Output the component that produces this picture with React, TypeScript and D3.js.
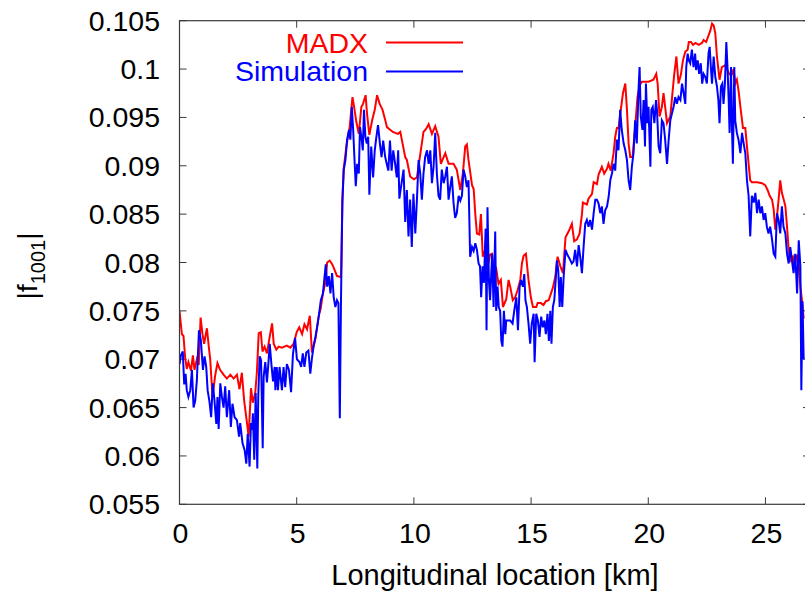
import React from "react";
import * as d3 from "d3";

// Coupling resonance driving term |f1001| along the ring: model vs. simulation
const madxPoints: [number, number][] = [
  [0, 0.075], [0.1, 0.0726], [0.17, 0.0724], [0.24, 0.0702], [0.31, 0.069], [0.38, 0.0697],
  [0.49, 0.0688], [0.57, 0.0704], [0.64, 0.0689], [0.74, 0.07], [0.82, 0.0694], [0.9, 0.0743],
  [0.98, 0.0726], [1.05, 0.0716], [1.17, 0.0732], [1.24, 0.0715], [1.31, 0.07], [1.41, 0.0661],
  [1.52, 0.0683], [1.62, 0.0696], [1.73, 0.0689], [1.88, 0.0684], [2.02, 0.068], [2.17, 0.0684],
  [2.31, 0.068], [2.45, 0.0684], [2.56, 0.0669], [2.66, 0.0686], [2.76, 0.0657], [2.88, 0.0634],
  [2.95, 0.062], [3.05, 0.067], [3.13, 0.0655], [3.23, 0.0665], [3.3, 0.0686], [3.38, 0.0727],
  [3.47, 0.0728], [3.54, 0.0708], [3.63, 0.0713], [3.73, 0.0706], [3.84, 0.0722], [3.95, 0.0737],
  [4.02, 0.0716], [4.13, 0.071], [4.23, 0.0713], [4.37, 0.0712], [4.58, 0.0714], [4.73, 0.0712],
  [4.87, 0.0716], [5.0, 0.0728], [5.11, 0.0733], [5.23, 0.0726], [5.33, 0.0736], [5.44, 0.0731],
  [5.56, 0.0745], [5.65, 0.0707], [5.8, 0.0721], [5.94, 0.0745], [6.02, 0.0752], [6.12, 0.0768],
  [6.23, 0.078], [6.3, 0.08], [6.41, 0.0802], [6.52, 0.0798], [6.62, 0.0792], [6.72, 0.0786],
  [6.89, 0.0785], [6.95, 0.0864], [7.0, 0.0896], [7.12, 0.092], [7.26, 0.094], [7.38, 0.0971],
  [7.43, 0.0964], [7.54, 0.0946], [7.65, 0.0933], [7.76, 0.0961], [7.83, 0.0964], [7.94, 0.0973],
  [8.0, 0.0954], [8.1, 0.0932], [8.22, 0.0947], [8.33, 0.0958], [8.43, 0.0973], [8.54, 0.0964],
  [8.66, 0.0958], [8.76, 0.0949], [8.85, 0.094], [9.1, 0.0935], [9.32, 0.0933], [9.42, 0.0935],
  [9.63, 0.0909], [9.7, 0.0906], [9.84, 0.0889], [10.0, 0.0886], [10.13, 0.0888], [10.41, 0.0935],
  [10.52, 0.0938], [10.63, 0.0943], [10.77, 0.0933], [10.91, 0.0941], [11.05, 0.093], [11.15, 0.0902],
  [11.34, 0.0913], [11.48, 0.0902], [11.69, 0.0902], [11.83, 0.0896], [11.98, 0.0875], [12.09, 0.0892],
  [12.19, 0.092], [12.26, 0.0922], [12.33, 0.0906], [12.48, 0.088], [12.55, 0.0876], [12.62, 0.085],
  [12.69, 0.083], [12.79, 0.0829], [12.86, 0.085], [12.94, 0.0806], [13.04, 0.0813], [13.11, 0.083],
  [13.18, 0.0799], [13.25, 0.0808], [13.33, 0.0809], [13.4, 0.0792], [13.51, 0.0794], [13.61, 0.0778],
  [13.71, 0.0782], [13.8, 0.0754], [13.94, 0.0762], [14.04, 0.0782], [14.11, 0.0775], [14.22, 0.0761],
  [14.32, 0.0764], [14.42, 0.0771], [14.54, 0.0782], [14.61, 0.0799], [14.68, 0.0807], [14.78, 0.0809],
  [14.89, 0.0782], [14.99, 0.0764], [15.08, 0.0754], [15.22, 0.0754], [15.28, 0.0758], [15.42, 0.0758],
  [15.53, 0.0756], [15.63, 0.076], [15.75, 0.0761], [15.85, 0.0768], [15.93, 0.0774], [16.03, 0.0785],
  [16.13, 0.0806], [16.25, 0.0796], [16.36, 0.0789], [16.47, 0.0826], [16.6, 0.0832], [16.74, 0.084],
  [16.84, 0.0822], [16.96, 0.0824], [17.07, 0.083], [17.17, 0.085], [17.21, 0.0862], [17.38, 0.086],
  [17.45, 0.0866], [17.6, 0.0871], [17.67, 0.0883], [17.81, 0.0881], [17.88, 0.0891], [18.02, 0.0899],
  [18.12, 0.0892], [18.24, 0.0897], [18.3, 0.0902], [18.4, 0.0895], [18.52, 0.0913], [18.59, 0.093],
  [18.66, 0.0939], [18.73, 0.0939], [18.83, 0.0958], [18.92, 0.0975], [19.02, 0.0985], [19.09, 0.0958],
  [19.16, 0.0923], [19.23, 0.0909], [19.33, 0.0909], [19.44, 0.094], [19.54, 0.0971], [19.63, 0.0983],
  [19.73, 0.0987], [19.87, 0.0987], [20.01, 0.0987], [20.22, 0.0989], [20.34, 0.0995], [20.4, 0.0985],
  [20.48, 0.0951], [20.58, 0.0961], [20.65, 0.0975], [20.72, 0.0961], [20.8, 0.0944], [20.94, 0.0951],
  [21.05, 0.098], [21.11, 0.0995], [21.2, 0.1013], [21.29, 0.0985], [21.39, 0.0994], [21.48, 0.1009],
  [21.58, 0.1018], [21.68, 0.102], [21.73, 0.1028], [21.82, 0.1028], [21.91, 0.1025], [22.01, 0.1027],
  [22.15, 0.1025], [22.29, 0.1027], [22.36, 0.103], [22.47, 0.1028], [22.53, 0.1032], [22.65, 0.104],
  [22.72, 0.1047], [22.79, 0.1045], [22.86, 0.1037], [22.93, 0.1013], [23.04, 0.0989], [23.14, 0.1002],
  [23.29, 0.1004], [23.43, 0.0996], [23.54, 0.0993], [23.64, 0.1], [23.71, 0.0985], [23.78, 0.0989],
  [23.85, 0.0978], [23.93, 0.0961], [24.04, 0.0939], [24.14, 0.0939], [24.21, 0.092], [24.28, 0.0902],
  [24.35, 0.0885], [24.42, 0.0883], [24.52, 0.0883], [24.64, 0.0883], [24.85, 0.0882], [24.99, 0.088],
  [25.09, 0.0875], [25.18, 0.0869], [25.28, 0.0865], [25.35, 0.0855], [25.42, 0.0834], [25.49, 0.0847],
  [25.56, 0.0865], [25.63, 0.0885], [25.7, 0.0872], [25.78, 0.0865], [25.85, 0.0858], [25.92, 0.0837],
  [25.99, 0.0813], [26.06, 0.0802], [26.17, 0.0806], [26.24, 0.0796], [26.35, 0.0808], [26.42, 0.08],
  [26.49, 0.0775], [26.56, 0.076], [26.63, 0.0742],
];

const simulationPoints: [number, number][] = [
  [0, 0.0695], [0.06, 0.0704], [0.14, 0.0708], [0.2, 0.0674], [0.26, 0.0685], [0.31, 0.0668],
  [0.38, 0.0661], [0.46, 0.0668], [0.53, 0.0689], [0.6, 0.065], [0.67, 0.0657], [0.74, 0.0678],
  [0.83, 0.073], [0.91, 0.072], [1.0, 0.0689], [1.07, 0.0703], [1.14, 0.0692], [1.2, 0.0668],
  [1.28, 0.0656], [1.35, 0.064], [1.42, 0.0675], [1.49, 0.0658], [1.57, 0.0633], [1.62, 0.0661],
  [1.67, 0.0628], [1.74, 0.0675], [1.81, 0.0661], [1.88, 0.065], [1.95, 0.0672], [2.02, 0.064],
  [2.12, 0.0668], [2.19, 0.063], [2.26, 0.0654], [2.35, 0.064], [2.45, 0.0637], [2.54, 0.062],
  [2.59, 0.0634], [2.69, 0.0613], [2.78, 0.0606], [2.85, 0.0592], [2.91, 0.0623], [2.99, 0.0589],
  [3.05, 0.0634], [3.1, 0.0627], [3.13, 0.0644], [3.19, 0.0596], [3.25, 0.0665], [3.32, 0.0587],
  [3.36, 0.0662], [3.42, 0.0703], [3.48, 0.0699], [3.55, 0.0608], [3.59, 0.0682], [3.66, 0.0697],
  [3.73, 0.0676], [3.79, 0.0695], [3.85, 0.0716], [3.92, 0.0695], [3.99, 0.0677], [4.06, 0.0692],
  [4.09, 0.0668], [4.15, 0.0692], [4.2, 0.0668], [4.27, 0.0692], [4.37, 0.0668], [4.44, 0.0692],
  [4.51, 0.0671], [4.58, 0.0695], [4.67, 0.0689], [4.76, 0.0666], [4.84, 0.0705], [4.93, 0.0722],
  [5.01, 0.07], [5.12, 0.0697], [5.19, 0.0692], [5.26, 0.0706], [5.33, 0.0692], [5.41, 0.0707],
  [5.5, 0.0709], [5.58, 0.0685], [5.65, 0.0701], [5.73, 0.0715], [5.8, 0.0723], [5.87, 0.0733],
  [5.94, 0.0744], [6.03, 0.0761], [6.12, 0.0768], [6.24, 0.0798], [6.3, 0.0775], [6.37, 0.0786],
  [6.44, 0.0768], [6.51, 0.0789], [6.58, 0.0764], [6.65, 0.0754], [6.72, 0.0761], [6.78, 0.0758],
  [6.84, 0.0639], [6.89, 0.0761], [6.95, 0.0864], [7.01, 0.0896], [7.08, 0.0906], [7.15, 0.0927],
  [7.23, 0.0937], [7.29, 0.0927], [7.35, 0.0961], [7.41, 0.0937], [7.46, 0.091], [7.52, 0.0879],
  [7.58, 0.0902], [7.65, 0.0892], [7.7, 0.094], [7.76, 0.093], [7.82, 0.0916], [7.87, 0.0958],
  [7.93, 0.093], [7.99, 0.0923], [8.05, 0.093], [8.1, 0.087], [8.18, 0.092], [8.26, 0.0888],
  [8.33, 0.0916], [8.4, 0.093], [8.47, 0.0942], [8.55, 0.0923], [8.62, 0.0909], [8.69, 0.0926],
  [8.77, 0.091], [8.84, 0.0902], [8.91, 0.0895], [8.98, 0.0926], [9.05, 0.0895], [9.12, 0.0916],
  [9.2, 0.0902], [9.27, 0.0888], [9.33, 0.0916], [9.38, 0.0866], [9.45, 0.0878], [9.56, 0.0896],
  [9.63, 0.0842], [9.7, 0.0875], [9.77, 0.0827], [9.84, 0.0865], [9.91, 0.0816], [9.98, 0.0871],
  [10.06, 0.083], [10.13, 0.0865], [10.2, 0.0906], [10.27, 0.0892], [10.34, 0.0865], [10.41, 0.0892],
  [10.48, 0.0909], [10.56, 0.0916], [10.63, 0.0902], [10.7, 0.0916], [10.77, 0.0882], [10.84, 0.0899],
  [10.91, 0.0934], [10.98, 0.0892], [11.05, 0.0869], [11.12, 0.0865], [11.19, 0.0896], [11.27, 0.0882],
  [11.34, 0.0889], [11.41, 0.0899], [11.48, 0.0865], [11.55, 0.0878], [11.62, 0.0889], [11.69, 0.0862],
  [11.76, 0.0846], [11.83, 0.0851], [11.91, 0.0869], [11.98, 0.0864], [12.05, 0.0869], [12.12, 0.0896],
  [12.19, 0.0889], [12.26, 0.0878], [12.33, 0.0885], [12.4, 0.0806], [12.48, 0.0816], [12.55, 0.0812],
  [12.62, 0.082], [12.69, 0.0813], [12.76, 0.0799], [12.82, 0.0796], [12.87, 0.0764], [12.93, 0.0796],
  [12.99, 0.0779], [13.06, 0.0835], [13.1, 0.073], [13.14, 0.0857], [13.2, 0.0782], [13.25, 0.0761],
  [13.3, 0.0788], [13.34, 0.0809], [13.4, 0.0754], [13.47, 0.0832], [13.51, 0.075], [13.57, 0.0775],
  [13.62, 0.0754], [13.68, 0.075], [13.73, 0.0719], [13.78, 0.0713], [13.84, 0.075], [13.9, 0.0726],
  [13.94, 0.074], [14.01, 0.074], [14.11, 0.074], [14.21, 0.0737], [14.28, 0.075], [14.37, 0.0764],
  [14.44, 0.073], [14.51, 0.0775], [14.57, 0.0782], [14.65, 0.0775], [14.71, 0.0788], [14.76, 0.0761],
  [14.82, 0.0754], [14.89, 0.0737], [14.96, 0.0716], [15.03, 0.0737], [15.11, 0.0747], [15.15, 0.0697],
  [15.22, 0.0747], [15.29, 0.074], [15.36, 0.0723], [15.43, 0.0744], [15.5, 0.0733], [15.57, 0.074],
  [15.63, 0.0726], [15.7, 0.0747], [15.76, 0.0719], [15.82, 0.075], [15.87, 0.0716], [15.93, 0.0754],
  [15.99, 0.0761], [16.05, 0.0782], [16.1, 0.0802], [16.16, 0.0792], [16.22, 0.0754], [16.27, 0.0785],
  [16.33, 0.0754], [16.39, 0.0785], [16.47, 0.0813], [16.55, 0.0808], [16.64, 0.0804], [16.74, 0.0799],
  [16.81, 0.0801], [16.88, 0.0813], [16.96, 0.0796], [17.03, 0.0818], [17.1, 0.0805], [17.17, 0.0789],
  [17.24, 0.0816], [17.31, 0.084], [17.38, 0.0844], [17.45, 0.0837], [17.52, 0.0844], [17.6, 0.0834],
  [17.67, 0.0851], [17.74, 0.0865], [17.81, 0.0865], [17.88, 0.0861], [17.95, 0.0851], [18.02, 0.0858],
  [18.09, 0.084], [18.16, 0.0854], [18.24, 0.0858], [18.31, 0.0868], [18.38, 0.0885], [18.45, 0.0892],
  [18.52, 0.0902], [18.59, 0.0895], [18.66, 0.0927], [18.73, 0.0916], [18.8, 0.0958], [18.87, 0.0937],
  [18.95, 0.0923], [19.02, 0.0916], [19.09, 0.0906], [19.16, 0.0885], [19.23, 0.0875], [19.3, 0.0899],
  [19.37, 0.0913], [19.44, 0.0947], [19.51, 0.0923], [19.59, 0.0982], [19.63, 0.1002], [19.68, 0.0951],
  [19.75, 0.0937], [19.8, 0.0968], [19.86, 0.092], [19.9, 0.0985], [19.96, 0.0944], [20.01, 0.0961],
  [20.09, 0.0899], [20.13, 0.0958], [20.19, 0.0961], [20.26, 0.0944], [20.33, 0.0968], [20.37, 0.0958],
  [20.44, 0.092], [20.51, 0.0913], [20.58, 0.0947], [20.65, 0.0944], [20.72, 0.0927], [20.8, 0.0902],
  [20.87, 0.0927], [20.94, 0.0947], [21.01, 0.0954], [21.08, 0.0961], [21.15, 0.0971], [21.22, 0.0964],
  [21.29, 0.0971], [21.37, 0.0968], [21.44, 0.0985], [21.51, 0.0975], [21.58, 0.0964], [21.62, 0.1002],
  [21.68, 0.1016], [21.73, 0.1009], [21.79, 0.1006], [21.86, 0.102], [21.93, 0.1002], [22.0, 0.1016],
  [22.04, 0.0999], [22.11, 0.1009], [22.17, 0.0995], [22.24, 0.1006], [22.3, 0.0985], [22.36, 0.0995],
  [22.43, 0.0992], [22.5, 0.0985], [22.57, 0.1016], [22.62, 0.1023], [22.67, 0.1002], [22.72, 0.0985],
  [22.79, 0.1013], [22.86, 0.0992], [22.93, 0.0982], [22.99, 0.0968], [23.04, 0.0944], [23.1, 0.0982],
  [23.16, 0.0985], [23.21, 0.0964], [23.27, 0.0985], [23.33, 0.1028], [23.38, 0.1002], [23.43, 0.0968],
  [23.47, 0.0934], [23.53, 0.1002], [23.57, 0.094], [23.61, 0.0902], [23.67, 0.1002], [23.71, 0.0947],
  [23.78, 0.0934], [23.85, 0.0927], [23.93, 0.0913], [24.0, 0.0934], [24.07, 0.0923], [24.14, 0.0913],
  [24.21, 0.0885], [24.28, 0.0869], [24.35, 0.0827], [24.42, 0.0869], [24.5, 0.0862], [24.57, 0.0872],
  [24.64, 0.0851], [24.71, 0.0865], [24.78, 0.0851], [24.85, 0.0858], [24.92, 0.0844], [24.99, 0.0851],
  [25.06, 0.0837], [25.13, 0.083], [25.2, 0.0837], [25.28, 0.0824], [25.35, 0.0809], [25.42, 0.0806],
  [25.49, 0.0851], [25.56, 0.0844], [25.63, 0.083], [25.7, 0.0858], [25.77, 0.0837], [25.85, 0.083],
  [25.92, 0.0809], [25.99, 0.0799], [26.06, 0.0816], [26.13, 0.0802], [26.2, 0.0789], [26.27, 0.0809],
  [26.35, 0.0768], [26.42, 0.0823], [26.49, 0.0796], [26.53, 0.0668], [26.58, 0.076], [26.63, 0.07],
];

const xTicks = [0, 5, 10, 15, 20, 25];
const yTicks = [0.055, 0.06, 0.065, 0.07, 0.075, 0.08, 0.085, 0.09, 0.095, 0.1, 0.105];

const W = 805;
const H = 592;
const left = 179.5;
const right = 810;
const top = 20.7;
const bottom = 504.3;
const FONT = "'Liberation Sans', Arial, Helvetica, sans-serif";
const TICK = 7;
const FRAME = "#3a3a3a";

export default function App() {
  const x = d3.scaleLinear().domain([0, 26.9]).range([left, right]);
  const y = d3.scaleLinear().domain([0.055, 0.105]).range([bottom, top]);
  const line = d3
    .line<[number, number]>()
    .x((d) => x(d[0]))
    .y((d) => y(d[1]));
  const fmt = (v: number) => String(+v.toFixed(3));

  return (
    <svg
      width={W}
      height={H}
      style={{ position: "absolute", left: 0, top: 0, background: "#fff" }}
      fontFamily={FONT}
    >
      <defs>
        <clipPath id="plotArea">
          <rect x={left} y={top} width={right - left} height={bottom - top} />
        </clipPath>
      </defs>

      {/* ticks, mirrored on all four sides */}
      <g stroke={FRAME} strokeWidth={1}>
        {xTicks.map((t) => (
          <g key={"xt" + t}>
            <line x1={x(t)} x2={x(t)} y1={bottom} y2={bottom - TICK} />
            <line x1={x(t)} x2={x(t)} y1={top} y2={top + TICK} />
          </g>
        ))}
        {yTicks.map((t) => (
          <g key={"yt" + t}>
            <line x1={left} x2={left + TICK} y1={y(t)} y2={y(t)} />
            <line x1={right} x2={right - TICK} y1={y(t)} y2={y(t)} />
          </g>
        ))}
      </g>

      {/* tick labels */}
      <g fontSize={28.5} fill="#000">
        {xTicks.map((t) => (
          <text key={"xl" + t} x={x(t) + 1} y={543} textAnchor="middle">
            {t}
          </text>
        ))}
        {yTicks.map((t) => (
          <text key={"yl" + t} x={160} y={y(t) + 10} textAnchor="end">
            {fmt(t)}
          </text>
        ))}
      </g>

      {/* data */}
      <g clipPath="url(#plotArea)" fill="none" strokeWidth={2} strokeLinejoin="miter">
        <path d={line(madxPoints) ?? ""} stroke="#ff0000" />
        <path d={line(simulationPoints) ?? ""} stroke="#0000ff" />
      </g>

      {/* frame */}
      <rect
        x={left}
        y={top}
        width={right - left}
        height={bottom - top}
        fill="none"
        stroke={FRAME}
        strokeWidth={1.2}
      />

      {/* legend */}
      <g fontSize={28.5}>
        <text x={368} y={52.5} textAnchor="end" fill="#ff0000">
          MADX
        </text>
        <line x1={386} x2={463} y1={42.5} y2={42.5} stroke="#ff0000" strokeWidth={2} />
        <text x={368} y={81} textAnchor="end" fill="#0000ff">
          Simulation
        </text>
        <line x1={386} x2={463} y1={71.5} y2={71.5} stroke="#0000ff" strokeWidth={2} />
      </g>

      {/* axis titles */}
      <text x={495} y={585} textAnchor="middle" fontSize={29} fill="#000">
        Longitudinal location [km]
      </text>
      <text
        transform="translate(37,266) rotate(-90)"
        textAnchor="middle"
        fontSize={28.5}
        fill="#000"
      >
        |f
        <tspan fontSize={20} dy={8}>
          1001
        </tspan>
        <tspan dy={-8}>|</tspan>
      </text>
    </svg>
  );
}
